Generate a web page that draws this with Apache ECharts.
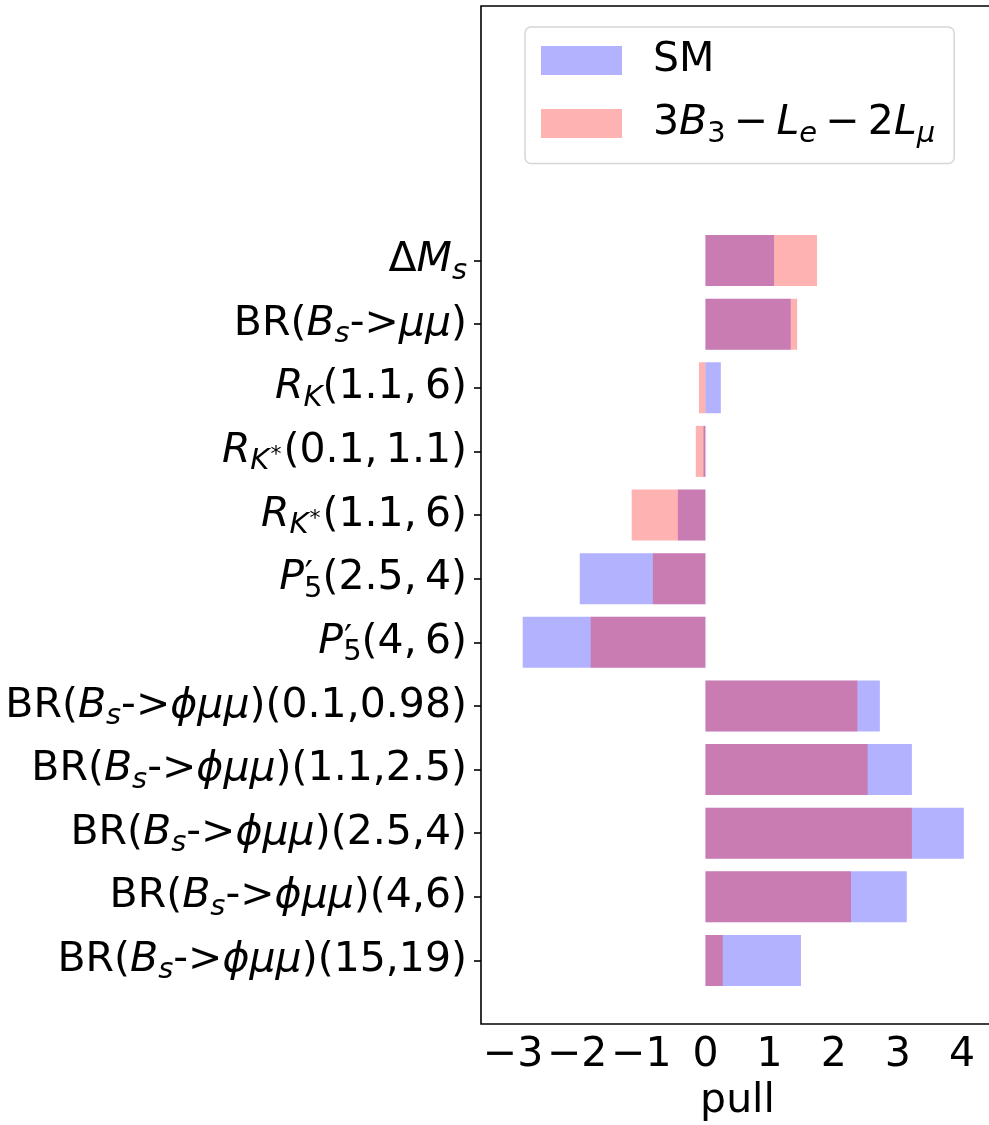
<!DOCTYPE html>
<html>
<head>
<meta charset="utf-8">
<script src="https://cdn.jsdelivr.net/npm/echarts@6/dist/echarts.min.js"></script>
<style>
  * { margin: 0; padding: 0; }
  body { background: #fff; }
  #pullChart { width: 989px; height: 1125px; }
</style>
</head>
<body>
<div id="pullChart"></div>
<script>
// observables, top to bottom (rich-text markup for sub/superscripts)
var observables = [
  '{n|Δ}{i|M}{s|s}',
  '{n|BR(}{i|B}{s|s}{n|->}{i|μμ}{n|)}',
  '{i|R}{s|K}{n|(1.1,\u20096)}',
  '{i|R}{s|K}{ss|*}{n|(0.1,\u20091.1)}',
  '{i|R}{s|K}{ss|*}{n|(1.1,\u20096)}',
  '{i|P}{pr|′}{su5|5}{n|(2.5,\u20094)}',
  '{i|P}{pr|′}{su5|5}{n|(4,\u20096)}',
  '{n|BR(}{i|B}{s|s}{n|->}{i|ϕμμ}{n|)(0.1,0.98)}',
  '{n|BR(}{i|B}{s|s}{n|->}{i|ϕμμ}{n|)(1.1,2.5)}',
  '{n|BR(}{i|B}{s|s}{n|->}{i|ϕμμ}{n|)(2.5,4)}',
  '{n|BR(}{i|B}{s|s}{n|->}{i|ϕμμ}{n|)(4,6)}',
  '{n|BR(}{i|B}{s|s}{n|->}{i|ϕμμ}{n|)(15,19)}'
];
// pulls, same order
var smPull = [1.07, 1.33, 0.24, -0.03, -0.43, -1.96, -2.85, 2.72, 3.22, 4.03, 3.14, 1.49];
var modelPull = [1.74, 1.43, -0.10, -0.15, -1.15, -0.82, -1.79, 2.37, 2.53, 3.22, 2.27, 0.27];

var xMajorTicks = [-3, -2, -1, 0, 1, 2, 3, 4];
var xMinorTicks = [];
for (var t = -34; t <= 44; t += 2) {
  if (t % 10 !== 0) xMinorTicks.push(t / 10);
}

var seriesNames = ['SM', '3B3-Le-2Lmu'];
var legendText = {
  'SM': '{p|SM}',
  '3B3-Le-2Lmu': '{p|3}{i|B}{su|3}{n|\u2009−\u2009}{i|L}{s|e}{n|\u2009−\u20092}{i|L}{s|μ}'
};

var FONT = 'DejaVu Sans';
var rich = {
  n: { fontFamily: FONT, fontSize: 41, color: '#000' },
  p: { fontFamily: FONT, fontSize: 41, color: '#000', padding: [0, 0, 0, 26] },
  i: { fontFamily: FONT, fontSize: 41, color: '#000', fontStyle: 'italic' },
  s: { fontFamily: FONT, fontSize: 29, color: '#000', fontStyle: 'italic', padding: [21, 0, 0, 0] },
  su: { fontFamily: FONT, fontSize: 29, color: '#000', padding: [21, 0, 0, 0] },
  su5: { fontFamily: FONT, fontSize: 29, color: '#000', padding: [21, 0, 0, -9] },
  ss: { fontFamily: FONT, fontSize: 22, color: '#000', padding: [8, 2, 0, 1] },
  pr: { fontFamily: FONT, fontSize: 36, color: '#000', padding: [0, 0, 4, 1] }
};

// category axis runs from slot -1 to 15, bottom to top
var cats = [''].concat(observables.slice().reverse(), ['', '', '', '']);
function pad(arr) {
  return [null].concat(arr.slice().reverse(), [null, null, null, null]);
}

var myChart = echarts.init(document.getElementById('pullChart'));
var option = {
  animation: false,
  backgroundColor: '#fff',
  grid: {
    left: 481, top: 6, width: 513, height: 1018,
    containLabel: false, outerBoundsMode: 'none',
    show: true, borderColor: '#000', borderWidth: 1.6
  },
  legend: {
    orient: 'vertical',
    left: 525, top: 27,
    padding: [13, 19, 15, 16],
    itemWidth: 81, itemHeight: 29, itemGap: 22,
    icon: 'rect',
    selectedMode: false,
    borderColor: '#d6d6d6', borderWidth: 1.5, borderRadius: 6,
    backgroundColor: 'rgba(255,255,255,0.8)',
    data: seriesNames,
    formatter: function (name) { return legendText[name]; },
    textStyle: { fontFamily: FONT, fontSize: 41, color: '#000', rich: rich }
  },
  xAxis: [
    {
      type: 'value', min: -3.5, max: 4.5,
      name: 'pull', nameLocation: 'middle', nameGap: 57,
      nameTextStyle: { fontFamily: FONT, fontSize: 41, color: '#000' },
      axisLine: { show: false },
      splitLine: { show: false },
      axisTick: { customValues: xMajorTicks, length: 7, lineStyle: { color: '#000', width: 1.6 } },
      axisLabel: {
        customValues: xMajorTicks, margin: 11,
        fontFamily: FONT, fontSize: 41, color: '#000',
        formatter: function (v) { return v < 0 ? '\u2212' + (-v) : String(v); }
      }
    },
    {
      // minor ticks only
      type: 'value', min: -3.5, max: 4.5, position: 'bottom',
      axisLine: { show: false },
      splitLine: { show: false },
      axisLabel: { show: false },
      axisTick: { customValues: xMinorTicks, length: 4, lineStyle: { color: '#000', width: 1.2 } }
    }
  ],
  yAxis: {
    type: 'category',
    data: cats,
    boundaryGap: false,
    axisLine: { show: false, onZero: false },
    splitLine: { show: false },
    axisTick: {
      length: 7,
      interval: function (idx, val) { return val !== ''; },
      lineStyle: { color: '#000', width: 1.6 }
    },
    axisLabel: {
      interval: 0, margin: 14,
      fontFamily: FONT, fontSize: 41, color: '#000',
      rich: rich,
      formatter: function (v) { return v; }
    }
  },
  series: [
    {
      name: seriesNames[0], type: 'bar', data: pad(smPull),
      barWidth: 51, barGap: '-100%',
      itemStyle: { color: 'rgba(0,0,255,0.3)' }
    },
    {
      name: seriesNames[1], type: 'bar', data: pad(modelPull),
      barWidth: 51, barGap: '-100%',
      itemStyle: { color: 'rgba(255,0,0,0.3)' }
    }
  ]
};
myChart.setOption(option);
</script>
</body>
</html>
